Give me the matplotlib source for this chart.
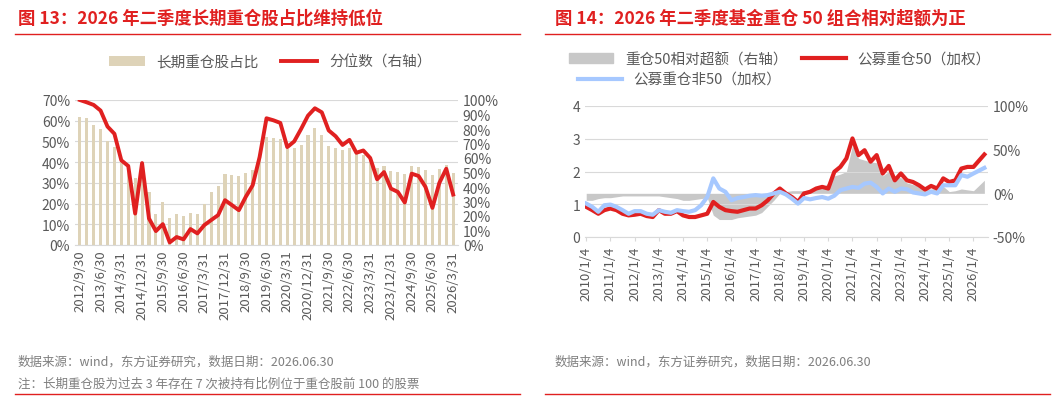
import matplotlib
matplotlib.use("Agg")
import matplotlib.pyplot as plt
import numpy as np
from matplotlib.ticker import FuncFormatter

plt.rcParams['font.family'] = ['Noto Sans CJK SC', 'DejaVu Sans']

# ---------- left data ----------
quarters = []
y, m = 2012, 9
while (y, m) <= (2026, 3):
    d = {3: 31, 6: 30, 9: 30, 12: 31}[m]
    quarters.append(f"{y}/{m}/{d}")
    m += 3
    if m > 12:
        m = 3; y += 1
share = [62, 61.5, 58, 56, 50, 47.5, 41, 38.5, 32.5, 36, 25.6, 15, 21, 13, 15, 14, 15.4, 15.2, 19.7,
         25.6, 28.7, 34.3, 34, 33.3, 34.6, 36, 43, 52, 51.8, 51, 46.5, 46.8, 48.4, 53.2, 56.4, 53.2,
         48, 47, 45.7, 47, 44, 43.6, 41.7, 37, 38, 35.7, 35.2, 34.5, 38.1, 37.8, 36, 33.6, 36.5, 38.8, 35]
pct = [100, 98.4, 96.6, 92.7, 81.7, 76.7, 58.4, 54.5, 21.7, 56.5, 18.3, 9.6, 14.4, 1.8, 5.5, 3.9, 11, 8,
       13.7, 17.2, 20.6, 30.9, 27.5, 24, 33.2, 41.2, 60.6, 87.4, 86, 84.2, 67.5, 71.4, 80, 89.2, 94.3,
       91.5, 79, 75, 69, 72.5, 63.6, 65.2, 60, 45.3, 50.3, 38.9, 36.6, 29.3, 49.2, 47.6, 40, 25.6, 42.8,
       52.6, 34.8]

# ---------- right data (quarterly, fractional years) ----------
t = [2010 + 0.25 * i for i in range(65)] + [2026.45]
top50 = [0.92, 0.82, 0.71, 0.82, 0.87, 0.82, 0.71, 0.66, 0.68, 0.71, 0.64, 0.61, 0.82, 0.71, 0.71, 0.79,
         0.66, 0.61, 0.61, 0.66, 0.71, 1.07, 0.92, 0.82, 0.79, 0.77, 0.82, 0.87, 0.87, 0.97, 1.12, 1.33,
         1.48, 1.33, 1.22, 1.07, 1.33, 1.38, 1.48, 1.53, 1.48, 1.99, 2.14, 2.40, 3.01, 2.5, 2.65, 2.30,
         2.50, 1.94, 2.17, 1.73, 1.94, 1.73, 1.68, 1.58, 1.45, 1.56, 1.48, 1.79, 1.68, 1.73, 2.09, 2.14,
         2.14, 2.52]
non50 = [1.02, 0.92, 0.77, 0.97, 0.99, 0.92, 0.82, 0.71, 0.79, 0.79, 0.71, 0.68, 0.82, 0.77, 0.74, 0.82,
         0.79, 0.77, 0.82, 0.97, 1.22, 1.79, 1.48, 1.38, 1.12, 1.19, 1.22, 1.26, 1.28, 1.26, 1.28, 1.33,
         1.38, 1.30, 1.17, 1.02, 1.19, 1.15, 1.19, 1.22, 1.17, 1.26, 1.43, 1.48, 1.53, 1.50, 1.63, 1.66,
         1.53, 1.33, 1.48, 1.38, 1.48, 1.46, 1.36, 1.33, 1.30, 1.38, 1.33, 1.58, 1.58, 1.58, 1.89, 1.84,
         1.94, 2.11]
excess = [-8, -8, -6, -5, -5, -4, -3, -3, -3, -3, -3, -3, -3, -4, -5, -6, -8, -8, -7, -6, -5, -25, -30,
          -30, -30, -28, -27, -26, -25, -22, -15, -8, 0, 2, 3, 3, 3, 4, 5, 6, 12, 20, 22, 25, 55, 40, 38,
          36, 35, 20, 25, 18, 18, 12, 10, 8, 5, 5, 6, 8, 2, 3, 5, 4, 3, 15]

red = '#e02020'
grey_txt = '#595959'

fig = plt.figure(figsize=(10.61, 4.02), dpi=100)
W, H = 1061, 402
def ax_rect(x0, y0, x1, y1):
    return [x0 / W, 1 - y1 / H, (x1 - x0) / W, (y1 - y0) / H]

# titles & rules
fig.text(18 / W, 1 - 19 / H, "图 13：2026 年二季度长期重仓股占比维持低位", color=red, fontsize=12.5,
         fontweight='bold', va='center')
fig.text(555 / W, 1 - 19 / H, "图 14：2026 年二季度基金重仓 50 组合相对超额为正", color=red, fontsize=12.5,
         fontweight='bold', va='center')
for (a, b, yy) in [(15, 520, 35), (545, 1050, 35), (15, 520, 395), (545, 1050, 395)]:
    fig.add_artist(plt.Line2D([a / W, b / W], [1 - yy / H] * 2, color=red, lw=1))
fig.text(18 / W, 1 - 362 / H, "数据来源：wind，东方证券研究，数据日期：2026.06.30", color='#7f7f7f', fontsize=9, va='center')
fig.text(18 / W, 1 - 384 / H, "注：长期重仓股为过去 3 年存在 7 次被持有比例位于重仓股前 100 的股票", color='#7f7f7f', fontsize=9, va='center')
fig.text(555 / W, 1 - 362 / H, "数据来源：wind，东方证券研究，数据日期：2026.06.30", color='#7f7f7f', fontsize=9, va='center')

# ---------- left ----------
ax = fig.add_axes(ax_rect(75, 101, 458, 246))
x = np.arange(len(quarters))
b = ax.bar(x, share, width=0.45, color='#ded3b8', label='长期重仓股占比')
ax.set_ylim(0, 70)
ax.set_xlim(-0.7, len(x) - 0.3)
ax.set_yticks(range(0, 71, 10))
ax.yaxis.set_major_formatter(FuncFormatter(lambda v, p: f"{v:.0f}%"))
ax.grid(axis='y', color='#d9d9d9', lw=0.8)
ax.set_axisbelow(True)
for s in ['top', 'right', 'left']:
    ax.spines[s].set_visible(False)
ax.spines['bottom'].set_color('#d9d9d9')
ax.set_xticks(x[::3])
ax.set_xticklabels(quarters[::3], rotation=90, fontsize=9.5, color=grey_txt)
ax.tick_params(axis='y', labelsize=10, colors=grey_txt, length=0)
ax.tick_params(axis='x', length=0)
ax2 = ax.twinx()
l, = ax2.plot(x, pct, color=red, lw=2.8, label='分位数（右轴）')
ax2.set_ylim(0, 100)
ax2.set_yticks(range(0, 101, 10))
ax2.yaxis.set_major_formatter(FuncFormatter(lambda v, p: f"{v:.0f}%"))
ax2.tick_params(axis='y', labelsize=10, colors=grey_txt, length=0)
for s in ax2.spines.values():
    s.set_visible(False)
fig.legend([b, l], ['长期重仓股占比', '分位数（右轴）'], loc='center', bbox_to_anchor=(270 / W, 1 - 63 / H),
           ncol=2, frameon=False, fontsize=10.5, handlelength=2.5, columnspacing=1.5,
           labelcolor=grey_txt)

# ---------- right ----------
bx = fig.add_axes(ax_rect(585, 107, 988, 238))
bx2 = bx.twinx()
bx2.fill_between(t, 0, excess, color='#c8c8c8', lw=0, label='重仓50相对超额（右轴）')
bx2.set_ylim(-50, 100)
bx2.set_yticks([-50, 0, 50, 100])
bx2.yaxis.set_major_formatter(FuncFormatter(lambda v, p: f"{v:.0f}%"))
bx2.tick_params(axis='y', labelsize=10, colors=grey_txt, length=0)
bx.set_zorder(bx2.get_zorder() + 1)
bx.patch.set_visible(False)
lr, = bx.plot(t, top50, color=red, lw=3, label='公募重仓50（加权）')
lb, = bx.plot(t, non50, color='#a6c8ff', lw=3, label='公募重仓非50（加权）')
bx.set_ylim(0, 4)
bx.set_yticks(range(5))
bx.set_xlim(2009.95, 2026.6)
yrs = list(range(2010, 2027))
bx.set_xticks(yrs)
bx.set_xticklabels([f"{v}/1/4" for v in yrs], rotation=90, fontsize=9.5, color=grey_txt)
bx.tick_params(axis='y', labelsize=10, colors=grey_txt, length=0)
bx.tick_params(axis='x', length=3, color='#d9d9d9')
bx.grid(axis='y', color='#d9d9d9', lw=0.8)
for a in (bx, bx2):
    for s in ['top', 'right', 'left']:
        a.spines[s].set_visible(False)
bx.spines['bottom'].set_color('#d9d9d9')
bx2.spines['bottom'].set_visible(False)
import matplotlib.patches as mpatches
gp = mpatches.Patch(color='#c8c8c8')
fig.legend([gp, lr], ['重仓50相对超额（右轴）', '公募重仓50（加权）'], loc='center',
           bbox_to_anchor=(780 / W, 1 - 60 / H), ncol=2, frameon=False, fontsize=10.5,
           handlelength=3, columnspacing=1.0, labelcolor=grey_txt)
fig.legend([lb], ['公募重仓非50（加权）'], loc='center left',
           bbox_to_anchor=(565 / W, 1 - 81 / H), frameon=False, fontsize=10.5,
           handlelength=3, labelcolor=grey_txt)

fig.savefig("out.png", dpi=100)
